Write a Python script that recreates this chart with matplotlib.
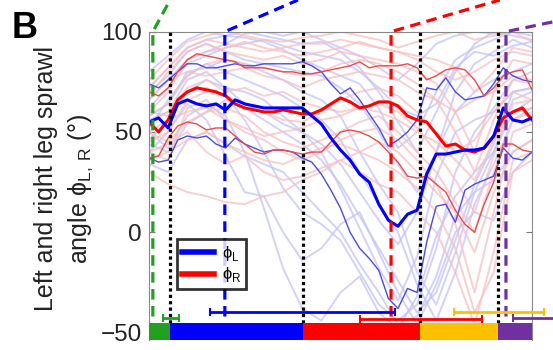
import numpy as np
import matplotlib
matplotlib.use('Agg')
import matplotlib.pyplot as plt

plt.rcParams['font.family'] = ['Liberation Sans', 'DejaVu Sans']
plt.rcParams['mathtext.fontset'] = 'custom'
plt.rcParams['mathtext.rm'] = 'Liberation Sans'

# stride phase (% of cycle), mean and mean +/- sd sprawl angles
x = np.arange(0, 100.1, 2.5)
blue_mean = [55, 57, 52, 64, 66, 64, 63, 64, 61, 66, 64, 63, 62, 62, 62, 62, 62, 58, 54, 47, 41,
             36, 29, 25, 14, 6, 3, 9, 11, 29, 39, 39, 40, 41, 41, 42, 48, 62, 56, 55, 57]
red_mean = [55, 50, 56, 66, 70, 72, 71, 70, 68, 64, 62, 61, 60, 60, 61, 60, 59, 59, 61, 64, 67,
            65, 62, 63, 65, 65, 63, 58, 56, 55, 49, 43, 44, 41, 40, 42, 48, 57, 60, 62, 56]
blue_hi = [74, 72, 76, 80, 84, 84, 82, 82, 83, 84, 83, 83, 84, 84, 84, 84, 85, 83, 80, 74, 69,
           72, 66, 59, 52, 43, 46, 50, 56, 72, 71, 77, 70, 66, 67, 68, 74, 82, 78, 76, 75]
blue_lo = [37, 35, 36, 46, 48, 47, 48, 44, 42, 47, 44, 42, 40, 41, 41, 40, 37, 35, 29, 21, 12,
           0, -8, -13, -19, -33, -38, -28, -30, -5, 13, 14, 5, 21, 24, 26, 28, 42, 37, 36, 40]
red_hi = [70, 68, 72, 80, 86, 89, 88, 87, 86, 85, 82, 82, 82, 81, 80, 80, 79, 79, 80, 81, 82,
          83, 85, 82, 83, 83, 83, 84, 82, 76, 78, 81, 82, 81, 76, 68, 72, 78, 80, 81, 71]
red_lo = [37, 38, 47, 53, 55, 54, 51, 52, 52, 48, 44, 40, 39, 41, 41, 40, 39, 40, 40, 45, 50,
          51, 50, 48, 45, 40, 35, 28, 27, 28, 24, 20, 11, 4, 0, 14, 25, 44, 44, 41, 40]

# individual trials (coarse)
x_tr = np.arange(0, 100.1, 5)
trials_L = [
    [62, 72, 84, 88, 92, 94, 96, 93, 90, 88, 86, 80, 72, 62, 58, 64, 82, 90, 88, 93, 95],
    [46, 56, 70, 76, 72, 70, 66, 58, 50, 40, 22, 2, -18, -34, -12, 28, 50, 56, 60, 70, 72],
    [50, 42, 58, 64, 58, 40, 12, -18, -38, -44, -30, -22, -40, -48, -32, -2, 18, 30, 40, 60, 66],
    [72, 82, 92, 96, 98, 97, 95, 91, 86, 82, 78, 74, 62, 42, 50, 70, 86, 92, 96, 100, 98],
    [34, 30, 46, 50, 44, 38, 34, 30, 20, 10, 0, -16, -30, -46, -42, -22, 8, 20, 26, 40, 46],
    [56, 60, 76, 80, 72, 64, 60, 54, 50, 44, 34, 20, 6, -6, 10, 40, 60, 70, 76, 80, 84],
    [66, 76, 86, 90, 94, 99, 100, 98, 100, 96, 92, 88, 82, 76, 84, 94, 98, 100, 99, 100, 100],
    [40, 50, 64, 56, 38, 20, 18, 0, -14, -8, 4, 10, -10, -30, -46, -26, 0, 10, 6, 30, 40],
    [58, 64, 80, 82, 86, 84, 80, 76, 70, 66, 58, 40, 24, 10, -20, -36, -10, 20, 40, 66, 70],
    [80, 88, 96, 100, 98, 100, 98, 96, 94, 95, 90, 82, 70, 55, 40, 60, 80, 94, 100, 98, 96],
    [52, 66, 78, 84, 80, 76, 72, 68, 62, 56, 46, 30, 14, 0, -26, -44, -20, 14, 34, 56, 62],
    [44, 40, 54, 60, 66, 62, 56, 50, 44, 36, 24, 8, -8, -24, -40, -30, -4, 24, 44, 70, 72],
    [70, 78, 90, 94, 90, 86, 84, 82, 80, 78, 72, 64, 50, 34, 20, 40, 70, 84, 90, 96, 92],
    [60, 58, 70, 72, 68, 56, 40, 22, 10, 4, -4, -20, -36, -44, -36, -8, 30, 50, 62, 76, 80],
]
trials_R = [
    [60, 70, 86, 90, 92, 95, 92, 90, 88, 90, 92, 95, 92, 90, 86, 80, 76, 80, 86, 90, 88],
    [45, 50, 66, 70, 68, 64, 60, 56, 55, 60, 66, 70, 72, 68, 60, 50, 40, 46, 60, 70, 66],
    [30, 24, 20, 18, 15, 14, 18, 20, 26, 30, 36, 40, 45, 40, 30, 20, 10, -10, 20, 40, 46],
    [76, 86, 95, 98, 100, 98, 96, 95, 97, 98, 100, 98, 96, 92, 95, 98, 100, 96, 98, 100, 95],
    [50, 45, 55, 60, 62, 58, 50, 45, 42, 46, 50, 55, 58, 50, 40, 30, 15, 0, 30, 56, 60],
    [40, 44, 50, 40, 34, 38, 30, 26, 28, 32, 36, 30, 24, 20, 10, 0, -20, -46, -10, 36, 40],
    [66, 76, 80, 78, 80, 82, 78, 76, 72, 76, 78, 80, 78, 76, 70, 66, 60, 66, 70, 78, 76],
    [55, 60, 72, 76, 70, 72, 68, 70, 65, 62, 60, 62, 60, 56, 50, 45, 36, 26, 46, 60, 62],
    [68, 80, 90, 94, 90, 88, 86, 88, 84, 86, 90, 88, 86, 84, 80, 74, 60, 40, 70, 86, 84],
    [40, 36, 62, 66, 56, 50, 46, 40, 36, 40, 46, 50, 52, 46, 36, 24, 4, -30, 10, 50, 54],
    [58, 64, 78, 84, 86, 84, 82, 80, 78, 80, 84, 86, 84, 80, 74, 66, 50, 30, 56, 76, 74],
    [50, 56, 60, 62, 56, 52, 48, 50, 52, 56, 58, 62, 64, 60, 52, 40, 26, 10, 38, 64, 66],
    [72, 82, 92, 96, 94, 92, 90, 92, 94, 94, 96, 94, 92, 90, 88, 86, 82, 70, 80, 92, 90],
    [36, 40, 46, 50, 44, 40, 36, 34, 38, 42, 44, 40, 36, 30, 22, 10, -8, -40, -20, 30, 36],
]

# phases
phase_edges = [0, 5.5, 40.2, 70.8, 91.1, 100]
phase_colors = ['#22a022', '#0000ff', '#ff0000', '#ffc000', '#7030a0']
events = [1.0, 19.8, 63.2, 93.2]
event_colors = ['#22a022', '#0000ff', '#ff0000', '#7030a0']
event_ends = [(5.5, 115.8), (38.9, 115.8), (91.6, 115.8), (107.0, 105.5)]
ranges = [(3.7, 7.8), (15.9, 64.2), (55.1, 86.9), (79.6, 103.1), (95.0, 107.0)]
range_y = [-42.7, -39.8, -43.0, -39.8, -42.7]

fig = plt.figure(figsize=(5.53, 3.5), dpi=100)
ax = fig.add_axes([149 / 553, 10 / 350, 383 / 553, 308.3 / 350])

for tr in trials_L:
    ax.plot(x_tr, tr, color='#c4c4f6', lw=1.4, alpha=0.75)
for tr in trials_R:
    ax.plot(x_tr, tr, color='#f7c0c0', lw=1.4, alpha=0.75)

ax.plot(x, blue_hi, color='#4a4ae6', lw=1.0)
ax.plot(x, blue_lo, color='#4a4ae6', lw=1.0)
ax.plot(x, red_hi, color='#ec4a4a', lw=1.0)
ax.plot(x, red_lo, color='#ec4a4a', lw=1.0)
ax.plot(x, red_mean, color='#ff0000', lw=2.2, label=r'ϕ$_\mathrm{R}$')
ax.plot(x, blue_mean, color='#0000ff', lw=2.2, label=r'ϕ$_\mathrm{L}$')

for e in phase_edges[1:-1]:
    ax.plot([e, e], [-45, 100], color='black', lw=2.3, ls=(0, (1, 1)), zorder=5)

for e, (xe, ye), c in zip(events, event_ends, event_colors):
    ax.plot([e, e, xe], [-42, 100, ye], color=c, lw=2.3, ls=(0, (3.3, 2)),
            clip_on=False, zorder=6)

for (lo, hi), yv, c in zip(ranges, range_y, phase_colors):
    ax.errorbar((lo + hi) / 2, yv, xerr=(hi - lo) / 2, color=c, lw=2, capsize=3,
                capthick=1.5, clip_on=False, zorder=7)

for i in range(5):
    ax.fill_between([phase_edges[i], phase_edges[i + 1]], -53.7, -45,
                    color=phase_colors[i], lw=0, zorder=8)

ax.set_xlim(0, 100)
ax.set_ylim(-53.7, 100)
ax.set_xticks([])
ax.set_yticks([-50, 0, 50, 100])
ax.tick_params(axis='y', direction='in', length=4, right=True, labelsize=17.5,
               labelcolor='#222222', color='#777777', pad=5)
for s in ['left', 'right', 'top']:
    ax.spines[s].set_color('#888888')
    ax.spines[s].set_linewidth(0.8)
ax.spines['bottom'].set_visible(False)

h, l = ax.get_legend_handles_labels()
leg = ax.legend(h[::-1], l[::-1], loc='upper left', bbox_to_anchor=(0.073, 0.328),
                fontsize=12, frameon=True, fancybox=False, handlelength=1.9,
                borderpad=0.3, labelspacing=0.15, handletextpad=0.5, borderaxespad=0)
leg.get_frame().set_edgecolor('black')
leg.get_frame().set_linewidth(2)
for ln in leg.get_lines():
    ln.set_linewidth(4)
leg.set_zorder(10)

fig.text(46 / 553, 0.49, 'Left and right leg sprawl', rotation=90, fontsize=18,
         ha='center', va='center', color='#222222')
fig.text(81 / 553, 0.46, r'angle ϕ$_\mathrm{L,\,R}$ (°)', rotation=90, fontsize=18,
         ha='center', va='center', color='#222222')
fig.text(12 / 553, 0.89, 'B', fontsize=26, fontweight='bold', ha='left', va='baseline')

fig.savefig('out.png', dpi=100)
